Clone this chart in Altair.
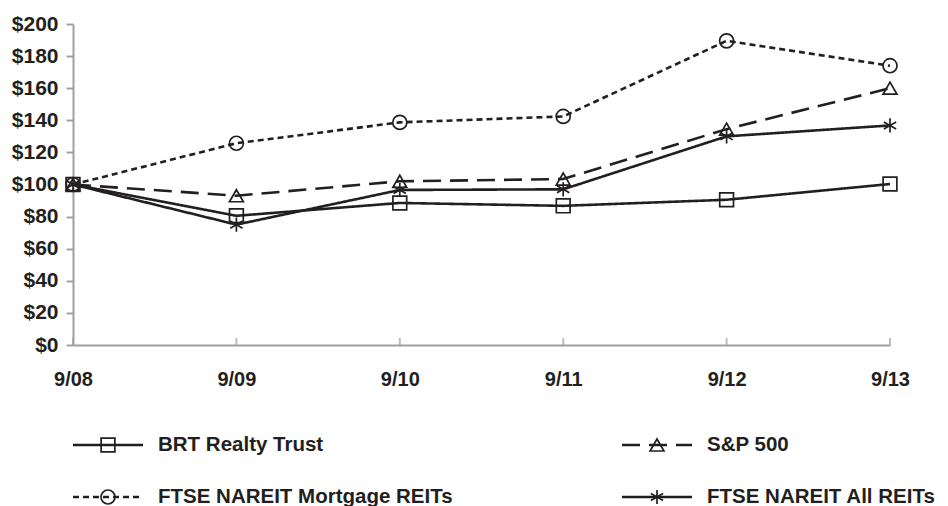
import altair as alt
import pandas as pd

dates = ["9/08", "9/09", "9/10", "9/11", "9/12", "9/13"]
series = ["BRT Realty Trust", "S&P 500", "FTSE NAREIT Mortgage REITs", "FTSE NAREIT All REITs"]
brt = [100, 80.5, 88.5, 86.7, 90.5, 100.3]
sp500 = [100, 93, 102, 103.4, 134.5, 160]
mortgage = [100, 125.7, 138.7, 142.4, 189.5, 174]
all_reits = [100, 75, 96.6, 97, 130, 136.8]
y_ticks = [0, 20, 40, 60, 80, 100, 120, 140, 160, 180, 200]
legend_col = [0, 1, 0, 1]
legend_row = [0, 0, 1, 1]

values = [brt, sp500, mortgage, all_reits]
rows = []
for s, vals in zip(series, values):
    for d, v in zip(dates, vals):
        rows.append({"date": d, "series": s, "value": v})
df = pd.DataFrame(rows)
leg = pd.DataFrame({"series": series, "col": legend_col, "row": legend_row})

INK = "#231f20"
GRAY = "#a0a0a0"
FONT = "Liberation Sans"
STAR = "M0,-1L0,1M-0.87,-0.5L0.87,0.5M-0.87,0.5L0.87,-0.5"

dash_scale = alt.Scale(domain=series, range=[[1, 0], [18, 9], [6, 4], [1, 0]])
shape_scale = alt.Scale(domain=series, range=["square", "triangle-up", "circle", STAR])
size_scale = alt.Scale(domain=series, range=[190, 200, 220, 560])
sw_scale = alt.Scale(domain=series, range=[1.7, 1.7, 1.7, 2.2])

W, H = 817, 321

x_enc = alt.X("date:O", sort=dates, scale=alt.Scale(type="point", padding=0),
              axis=alt.Axis(title=None, labelAngle=0, ticks=False, labelPadding=24,
                            labelFont=FONT, labelFontSize=20, labelFontWeight="bold",
                            labelColor=INK, domainColor=GRAY, domainWidth=2))
y_axis = alt.Axis(title=None, values=y_ticks, tickCount=len(y_ticks), grid=False,
                  labelExpr="'$' + datum.value", tickSize=7, labelPadding=8,
                  labelOverlap=False,
                  tickColor=GRAY, tickWidth=2, domainColor=GRAY, domainWidth=2,
                  labelFont=FONT, labelFontSize=21, labelFontWeight="bold",
                  labelColor=INK)
y_enc = alt.Y("value:Q", scale=alt.Scale(domain=[0, 200], nice=False), axis=y_axis)

lines = alt.Chart(df).mark_line(color=INK, strokeWidth=2.6).encode(
    x=x_enc, y=y_enc,
    strokeDash=alt.StrokeDash("series:N", scale=dash_scale, legend=None),
    detail="series:N",
)
points = alt.Chart(df).mark_point(filled=False, color=INK, opacity=1).encode(
    x=x_enc, y=y_enc,
    shape=alt.Shape("series:N", scale=shape_scale, legend=None),
    size=alt.Size("series:N", scale=size_scale, legend=None),
    strokeWidth=alt.StrokeWidth("series:N", scale=sw_scale, legend=None),
)
ticks = alt.Chart(pd.DataFrame({"date": dates})).mark_tick(
    color=GRAY, thickness=2, size=7, orient="vertical", yOffset=-3.5
).encode(x=alt.X("date:O", sort=dates), y=alt.value(H))

main = alt.layer(lines, points, ticks).properties(width=W, height=H)

lx = alt.X("col:Q", scale=alt.Scale(domain=[0, 1], range=[0, 549]), axis=None)
ly = alt.Y("row:Q", scale=alt.Scale(domain=[0, 1], range=[46, 98]), axis=None)

leg_lines = alt.Chart(leg).mark_rule(color=INK, strokeWidth=2.6, x2Offset=70).encode(
    x=lx, x2=alt.X2("col:Q"), y=ly,
    strokeDash=alt.StrokeDash("series:N", scale=dash_scale, legend=None),
)
leg_pts = alt.Chart(leg).mark_point(filled=False, color=INK, opacity=1,
                                    xOffset=35).encode(
    x=lx, y=ly,
    shape=alt.Shape("series:N", scale=shape_scale, legend=None),
    size=alt.Size("series:N", scale=size_scale, legend=None),
    strokeWidth=alt.StrokeWidth("series:N", scale=sw_scale, legend=None),
)
leg_txt = alt.Chart(leg).mark_text(align="left", baseline="middle", xOffset=85,
                                   font=FONT, fontSize=20.5, fontWeight="bold",
                                   color=INK).encode(x=lx, y=ly, text="series:N")

legend = alt.layer(leg_lines, leg_pts, leg_txt).properties(width=W, height=98)

chart = alt.vconcat(main, legend, spacing=10).configure_view(stroke=None).properties(
    padding={"left": 3, "top": 5, "right": 0, "bottom": 0}
)

chart.save("out.html", embed_options={"renderer": "svg", "actions": False})
